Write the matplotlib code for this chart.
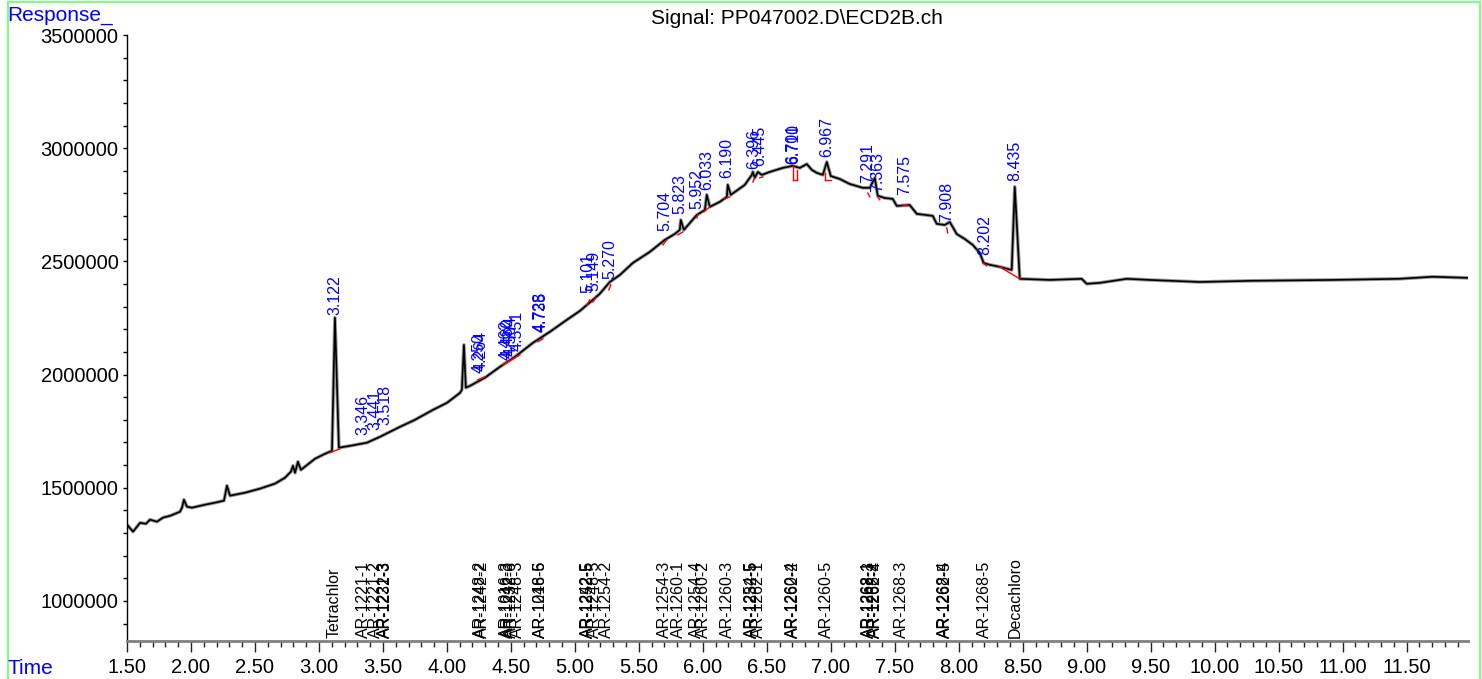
import numpy as np
import matplotlib
matplotlib.use("Agg")
import matplotlib.pyplot as plt
from matplotlib.lines import Line2D
from matplotlib.ticker import MultipleLocator, FormatStrFormatter, FuncFormatter

plt.rcParams['font.family'] = ['Liberation Sans', 'DejaVu Sans']

# chromatogram trace (time in min, response)
trace_time = [1.500, 1.547, 1.602, 1.648, 1.680, 1.734, 1.781, 1.836, 1.914, 1.930,
              1.945, 1.969, 2.008, 2.109, 2.188, 2.258, 2.281, 2.305, 2.422, 2.539,
              2.656, 2.734, 2.781, 2.797, 2.813, 2.836, 2.859, 2.969, 3.047, 3.102,
              3.125, 3.156, 3.242, 3.375, 3.477, 3.633, 3.750, 3.891, 4.000, 4.063,
              4.102, 4.117, 4.133, 4.148, 4.180, 4.297, 4.414, 4.531, 4.672, 4.805,
              4.938, 5.039, 5.141, 5.195, 5.273, 5.352, 5.453, 5.586, 5.703, 5.781,
              5.820, 5.828, 5.852, 5.953, 6.016, 6.031, 6.055, 6.133, 6.188, 6.195,
              6.219, 6.328, 6.383, 6.391, 6.406, 6.430, 6.461, 6.523, 6.625, 6.703,
              6.758, 6.813, 6.852, 6.891, 6.938, 6.969, 7.000, 7.070, 7.148, 7.250,
              7.305, 7.328, 7.344, 7.367, 7.422, 7.484, 7.516, 7.617, 7.672, 7.797,
              7.828, 7.891, 7.930, 7.953, 7.984, 8.047, 8.109, 8.164, 8.195, 8.242,
              8.320, 8.414, 8.438, 8.477, 8.711, 8.961, 9.000, 9.102, 9.313, 9.492,
              9.883, 10.273, 10.922, 11.445, 11.703, 11.984]
trace_resp = [1337000, 1306000, 1345000, 1341000, 1359000, 1350000, 1368000, 1376000, 1394000, 1412000,
              1447000, 1416000, 1412000, 1425000, 1434000, 1443000, 1509000, 1465000, 1478000, 1496000,
              1518000, 1544000, 1571000, 1597000, 1566000, 1615000, 1579000, 1628000, 1650000, 1663000,
              2251000, 1677000, 1685000, 1699000, 1725000, 1769000, 1800000, 1844000, 1875000, 1902000,
              1919000, 1933000, 2131000, 1942000, 1950000, 1986000, 2034000, 2078000, 2140000, 2189000,
              2242000, 2281000, 2330000, 2357000, 2409000, 2440000, 2493000, 2542000, 2595000, 2621000,
              2639000, 2683000, 2639000, 2705000, 2727000, 2794000, 2741000, 2763000, 2785000, 2838000,
              2794000, 2838000, 2882000, 2895000, 2869000, 2895000, 2882000, 2895000, 2913000, 2922000,
              2913000, 2930000, 2904000, 2891000, 2882000, 2939000, 2877000, 2864000, 2842000, 2825000,
              2825000, 2851000, 2869000, 2790000, 2780000, 2776000, 2745000, 2749000, 2710000, 2701000,
              2666000, 2661000, 2674000, 2652000, 2621000, 2599000, 2573000, 2538000, 2493000, 2485000,
              2476000, 2462000, 2829000, 2423000, 2418000, 2423000, 2401000, 2405000, 2423000, 2418000,
              2409000, 2414000, 2418000, 2423000, 2432000, 2427000]

# integrated peaks: retention time and label height
peak_rt = [3.122, 3.346, 3.441, 3.518, 4.250, 4.264, 4.462, 4.480, 4.504, 4.551,
           4.728, 4.735, 5.101, 5.149, 5.270, 5.704, 5.823, 5.952, 6.033, 6.190,
           6.396, 6.445, 6.701, 6.710, 6.967, 7.291, 7.363, 7.575, 7.908, 8.202, 8.435]
peak_height = [2259000, 1725000, 1747000, 1769000, 1999000, 2008000, 2056000, 2065000, 2074000, 2100000,
               2184000, 2184000, 2352000, 2361000, 2418000, 2626000, 2705000, 2727000, 2807000, 2860000,
               2904000, 2913000, 2926000, 2926000, 2957000, 2838000, 2802000, 2785000, 2670000, 2520000, 2851000]

# red baseline segments of integration
red_t0 = [3.086, 4.242, 4.438, 4.711, 5.094, 5.141, 5.266, 5.688, 5.805, 5.953, 6.008, 6.172,
          6.391, 6.445, 6.703, 6.703, 6.734, 6.953, 6.953, 7.289, 7.367, 7.563, 7.906, 8.188, 8.320]
red_r0 = [1655000, 1977000, 2043000, 2145000, 2308000, 2321000, 2374000, 2573000, 2617000, 2692000, 2719000, 2776000,
          2851000, 2869000, 2926000, 2860000, 2860000, 2891000, 2860000, 2802000, 2785000, 2749000, 2648000, 2493000, 2476000]
red_t1 = [3.164, 4.297, 4.570, 4.750, 5.117, 5.164, 5.281, 5.719, 5.844, 5.961, 6.055, 6.211,
          6.406, 6.469, 6.703, 6.734, 6.734, 6.953, 7.000, 7.305, 7.383, 7.602, 7.914, 8.219, 8.477]
red_r1 = [1672000, 1990000, 2087000, 2158000, 2330000, 2339000, 2396000, 2595000, 2630000, 2705000, 2741000, 2785000,
          2869000, 2873000, 2860000, 2860000, 2904000, 2860000, 2860000, 2785000, 2772000, 2745000, 2626000, 2480000, 2423000]

# compound names along the time axis
comp_rt = [3.122, 3.346, 3.441, 3.510, 3.518, 4.265, 4.275, 4.462, 4.480, 4.504, 4.551,
           4.728, 4.735, 5.101, 5.106, 5.155, 5.250, 5.704, 5.810, 5.952, 6.005, 6.190,
           6.380, 6.385, 6.435, 6.701, 6.710, 6.967, 7.291, 7.300, 7.345, 7.352,
           7.555, 7.890, 7.895, 8.202, 8.440]
comp_name = ["Tetrachlor", "AR-1221-1", "AR-1221-2", "AR-1221-3", "AR-1232-3", "AR-1248-2", "AR-1242-2",
             "AR-1016-3", "AR-1242-3", "AR-1232-6", "AR-1248-3", "AR-1016-5", "AR-1248-6",
             "AR-1242-5", "AR-1252-5", "AR-1248-5", "AR-1254-2", "AR-1254-3", "AR-1260-1",
             "AR-1254-4", "AR-1260-2", "AR-1260-3", "AR-1254-5", "AR-1232-5", "AR-1262-1",
             "AR-1260-4", "AR-1262-2", "AR-1260-5", "AR-1268-1", "AR-1262-3", "AR-1268-2",
             "AR-1262-4", "AR-1268-3", "AR-1268-4", "AR-1262-5", "AR-1268-5", "Decachloro"]

fig = plt.figure(figsize=(14.82, 6.79), dpi=100)
ax = fig.add_axes([127/1482, 38/679, 1341/1482, 606/679])

ax.plot(trace_time, trace_resp, color='#9a9a9a', lw=2.6, zorder=2)
ax.plot(trace_time, trace_resp, color='black', lw=1.2, zorder=3)
for a, b, c, d in zip(red_t0, red_r0, red_t1, red_r1):
    ax.plot([a, c], [b, d], color='red', lw=1.0, zorder=4)

for t, h in zip(peak_rt, peak_height):
    ax.annotate(f"{t:.3f}", xy=(t, h), xytext=(0, 1), textcoords='offset points',
                rotation=90, ha='center', va='bottom', color='#0000ff', fontsize=11.5)

ymin = 823000
for t, n in zip(comp_rt, comp_name):
    ax.annotate(n, xy=(t, ymin), xytext=(0, 2), textcoords='offset points',
                rotation=90, ha='center', va='bottom', color='black', fontsize=11.5)

ax.set_xlim(1.5, 11.98)
ax.set_ylim(ymin, 3500000)
ax.spines['top'].set_visible(False)
ax.spines['right'].set_visible(False)
ax.spines['left'].set_linewidth(1.0)
ax.spines['bottom'].set_color('#808080')
ax.spines['bottom'].set_linewidth(2.0)

ax.xaxis.set_major_locator(MultipleLocator(0.5))
ax.xaxis.set_minor_locator(MultipleLocator(0.1))
ax.xaxis.set_major_formatter(FormatStrFormatter('%.2f'))
ax.yaxis.set_major_locator(MultipleLocator(500000))
ax.yaxis.set_minor_locator(MultipleLocator(100000))
ax.yaxis.set_major_formatter(FuncFormatter(lambda v, p: f"{int(round(v))}"))

ax.tick_params(axis='x', which='major', length=8, width=1, color='#222222', labelsize=14.5, pad=4)
ax.tick_params(axis='x', which='minor', length=4.5, width=1, color='#222222')
ax.tick_params(axis='y', which='major', length=3, width=1, labelsize=14.5, pad=3)
ax.tick_params(axis='y', which='minor', length=3, width=1)

fig.text(7/1482, 1 - 6/679, "Response_", color='#0000ff', fontsize=15, ha='left', va='top')
fig.text(797/1482, 1 - 18/679, "Signal: PP047002.D\\ECD2B.ch", color='black', fontsize=15,
         ha='center', va='center')
fig.text(8/1482, 1/679, "Time", color='#0000ff', fontsize=15, ha='left', va='bottom')

# light green frame
g = '#80ff80'
fig.add_artist(Line2D([7.5/1482, 7.5/1482], [0, 1 - 1.5/679], color=g, lw=1.5, transform=fig.transFigure))
fig.add_artist(Line2D([7.5/1482, 1479.5/1482], [1 - 1.5/679, 1 - 1.5/679], color=g, lw=1.5, transform=fig.transFigure))
fig.add_artist(Line2D([1479.5/1482, 1479.5/1482], [0, 1 - 1.5/679], color=g, lw=1.5, transform=fig.transFigure))

fig.savefig("out.png", dpi=100)
